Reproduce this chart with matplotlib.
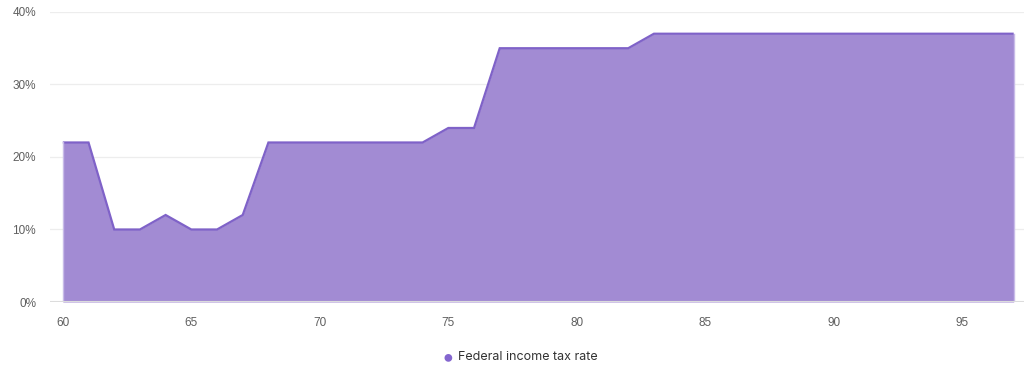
import matplotlib
matplotlib.use("Agg")
import matplotlib.pyplot as plt
from matplotlib.ticker import FuncFormatter

# Data
ages = list(range(60, 98))
tax_rate = [22, 22, 10, 10, 12, 10, 10, 12, 22, 22,
            22, 22, 22, 22, 22, 24, 24, 35, 35, 35,
            35, 35, 35, 37, 37, 37, 37, 37, 37, 37,
            37, 37, 37, 37, 37, 37, 37, 37]
series_name = "Federal income tax rate"
x_ticks = [60, 65, 70, 75, 80, 85, 90, 95]
y_ticks = [0, 10, 20, 30, 40]

fill_color = "#a28bd3"
line_color = "#7f62c8"
text_color = "#5f5f5f"

plt.rcParams['font.family'] = ['Liberation Sans', 'DejaVu Sans']

fig = plt.figure(figsize=(10.24, 3.74), dpi=100)
ax = fig.add_axes([0.0488, 0.1925, 0.9512, 0.7755])

ax.fill_between(ages, tax_rate, 0, color=fill_color, linewidth=0, zorder=2)
ax.plot(ages, tax_rate, color=line_color, linewidth=1.6, zorder=3,
        solid_capstyle="butt", solid_joinstyle="miter")
ax.plot([ages[0], ages[0]], [0, tax_rate[0]], color="#c8bbe8", linewidth=1, zorder=3)
ax.plot([ages[-1], ages[-1]], [0, tax_rate[-1]], color="#c8bbe8", linewidth=1, zorder=3)

ax.set_xlim(59.5, 97.4)
ax.set_ylim(0, 40)
ax.set_xticks(x_ticks)
ax.set_yticks(y_ticks)
ax.yaxis.set_major_formatter(FuncFormatter(lambda v, p: "%d%%" % v))

ax.grid(axis="y", color="#ededed", linewidth=0.9, zorder=0)
ax.axhline(0, color="#dcdcdc", linewidth=1.5, zorder=4)
for s in ax.spines.values():
    s.set_visible(False)
ax.tick_params(axis="both", length=0, labelsize=8.5, colors=text_color)
ax.tick_params(axis="x", pad=11)
ax.tick_params(axis="y", pad=10)

# legend: dot + label under the plot
fig.text(0.4375, 0.043, "\u25cf", color="#8466cf", fontsize=13, ha="center", va="center")
fig.text(0.447, 0.045, series_name, color="#333333", fontsize=9, ha="left", va="center",
         family=["Inter", "DejaVu Sans"])

fig.savefig("out.png", dpi=100)
